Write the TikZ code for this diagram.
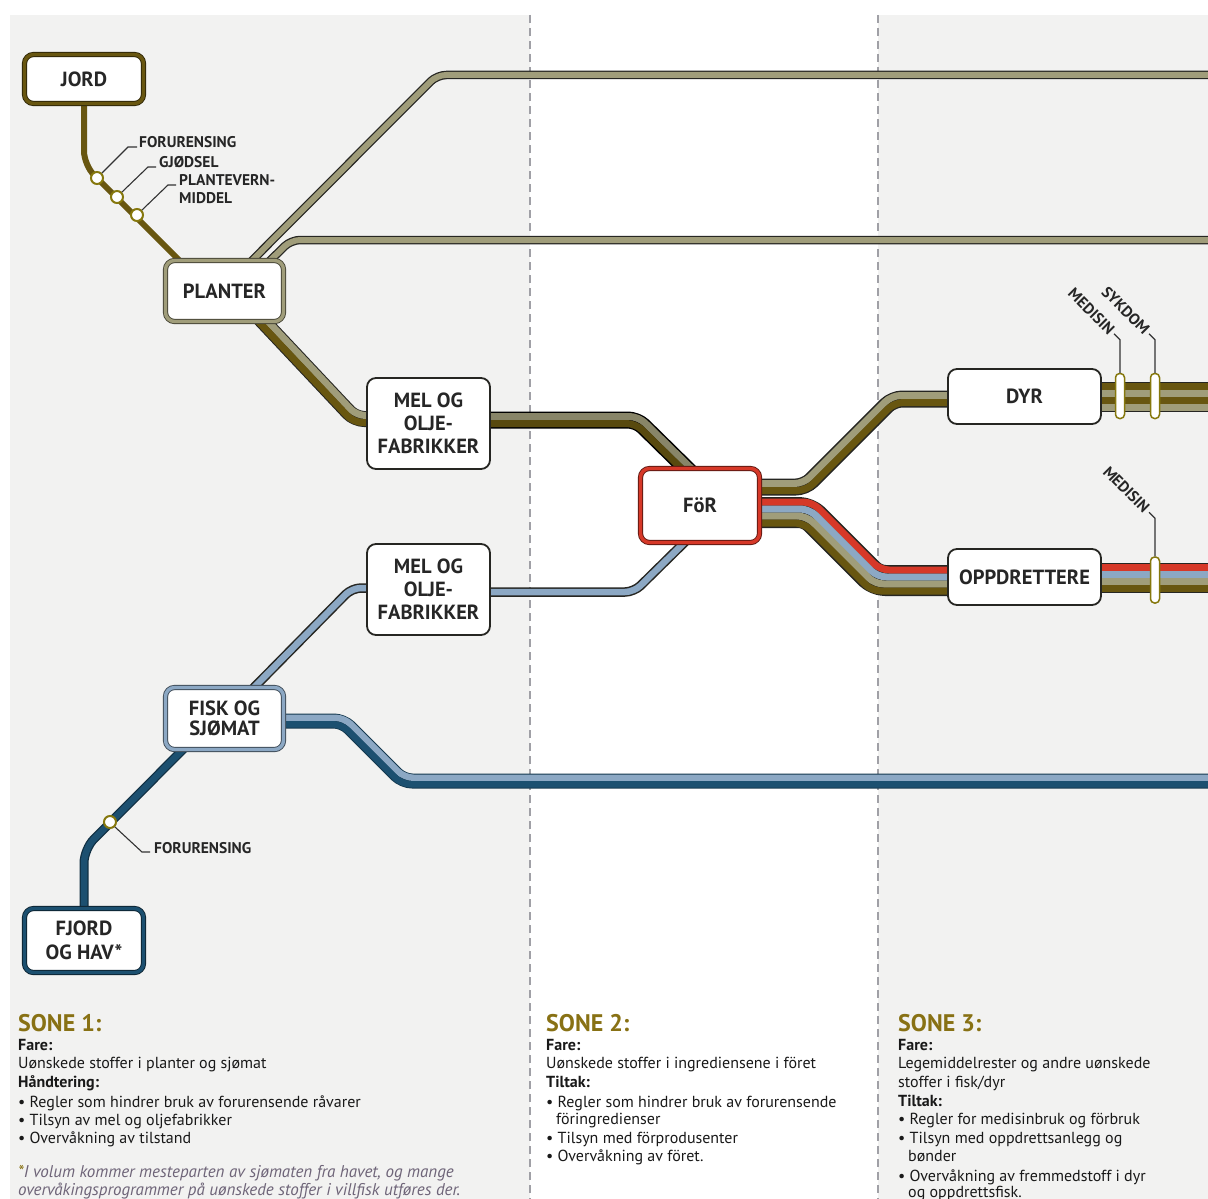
\documentclass[tikz,border=0pt]{standalone}
\usepackage{fontspec}
\setmainfont{PT Sans}
\usetikzlibrary{calc}
\pgfdeclarelayer{back}
\pgfdeclarelayer{lines}
\pgfsetlayers{back,lines,main}
\definecolor{oliveD}{RGB}{104,86,16}
\definecolor{oliveL}{RGB}{160,157,122}
\definecolor{blueL}{RGB}{140,168,196}
\definecolor{blueD}{RGB}{28,80,112}
\definecolor{redC}{RGB}{214,56,40}
\definecolor{edge}{RGB}{38,38,34}
\definecolor{bgz}{RGB}{242,242,241}
\definecolor{dashc}{RGB}{160,160,166}
\definecolor{gold}{RGB}{136,113,20}
\definecolor{fnc}{RGB}{110,100,120}
\begin{document}
\begin{tikzpicture}[x=1pt,y=-1pt,
 box/.style={rectangle, rounded corners=9pt, fill=white, align=center, inner sep=0pt, font=\fontsize{20.5}{23}\selectfont\bfseries, text=black!85},
 thinbox/.style={box, draw=edge, line width=1.8pt},
 dblbox/.style={box, draw=#1!45!black, double=#1, double distance=3.4pt, line width=0.9pt},
 lane/.style={line width=7pt, rounded corners=9pt, line join=round},
 outl/.style={draw=edge, rounded corners=9pt, line join=round},
 stn/.style={circle, minimum size=12pt, inner sep=0pt, fill=white, draw=oliveD!80!yellow, line width=2pt},
 barn/.style={rectangle, rounded corners=4pt, minimum width=9pt, minimum height=45pt, inner sep=0pt, fill=white, draw=oliveD!80!yellow, line width=1.5pt},
 leader/.style={draw=black!80, line width=1.1pt},
 lbl/.style={font=\fontsize{15.5}{18}\selectfont\bfseries, inner sep=0pt, text=black!85},
 tx/.style={anchor=base west, inner sep=0pt, font=\fontsize{16}{18}\selectfont, text=black!90},
 hd/.style={tx, font=\fontsize{16}{18}\selectfont\bfseries},
 sone/.style={tx, font=\fontsize{24}{28}\selectfont\bfseries, text=gold},
 fn/.style={tx, font=\fontsize{17}{19}\selectfont\itshape, text=fnc},
 dashln/.style={draw=dashc, line width=1.5pt, dash pattern=on 8pt off 5pt}
]
\useasboundingbox (0,0) rectangle (1208,1199);
\begin{pgfonlayer}{back}
\fill[white] (0,0) rectangle (1208,1199);
\fill[bgz] (10,15) rectangle (1208,1199);
\fill[white] (530,15) rectangle (878,1199);
\draw[dashln] (530,15) -- (530,1199);
\draw[dashln] (878,15) -- (878,1199);
\end{pgfonlayer}

% nodes
\node[dblbox=oliveD, minimum width=119pt, minimum height=49pt] (jord) at (84,79) {JORD};
\node[dblbox=oliveL, minimum width=118pt, minimum height=61pt] (planter) at (224.5,291) {PLANTER};
\node[thinbox, minimum width=123pt, minimum height=91pt] (melA) at (428.5,423.5) {MEL OG\\OLJE-\\FABRIKKER};
\node[thinbox, minimum width=123pt, minimum height=91pt] (melB) at (428.5,589.5) {MEL OG\\OLJE-\\FABRIKKER};
\node[dblbox=redC, minimum width=119pt, minimum height=74pt] (foer) at (700,505.5) {FöR};
\node[thinbox, minimum width=153pt, minimum height=55pt] (dyr) at (1024.5,396.5) {DYR};
\node[thinbox, minimum width=153pt, minimum height=56pt] (opp) at (1024.5,577) {OPPDRETTERE};
\node[dblbox=blueL, minimum width=118pt, minimum height=62pt, font=\fontsize{20.5}{20}\selectfont\bfseries] (fisk) at (224.5,718.5) {FISK OG\\SJØMAT};
\node[dblbox=blueD, minimum width=119pt, minimum height=64pt, font=\fontsize{20.5}{24}\selectfont\bfseries] (fjord) at (84,940.5) {FJORD\\OG HAV*};

\coordinate (e1) at (1215,75);
\coordinate (e2) at (1215,240);
\coordinate (e3) at (1215,781);
\coordinate (e4) at (1215,397);
\coordinate (e5) at (1215,578);

\begin{pgfonlayer}{lines}
% JORD -> PLANTER
\draw[draw=oliveD, line width=6pt, rounded corners=14pt] (jord.south) -- (84,165) -- ($(planter.north west)+(20,6)$);
% PLANTER -> top lines
\draw[outl, line width=8.5pt] ($(planter.north)+(22,6)$) -- (437,75) -- (e1);
\draw[lane, line width=6pt, draw=oliveL] ($(planter.north)+(22,6)$) -- (437,75) -- (e1);
\draw[outl, line width=8.5pt] ($(planter.north)+(40,6)$) -- (291,240) -- (e2);
\draw[lane, line width=6pt, draw=oliveL] ($(planter.north)+(40,6)$) -- (291,240) -- (e2);
% PLANTER -> MEL A
\draw[outl, line width=16pt] ($(planter.south)+(33.5,-6)$) -- (355,419) -- ($(melA.west)+(8,-4.5)$);
\foreach \d/\c in {-3.5/oliveL, 3.5/oliveD}
  \draw[lane, draw=\c] ($(planter.south)+(33.5,-6)+({-0.7*(\d)},{0.7*(\d)})$) -- ($(355,419)+({-0.4*(\d)},\d)$) -- ($(melA.west)+(8,-4.5)+(0,\d)$);
% MEL A -> FOR
\draw[outl, line width=17pt, draw=black] ($(melA.east)+(-5,-3.5)$) -- (637,420) -- ($(foer.north)+(-10,4)$);
\foreach \d/\c in {-3.5/oliveL!85!black, 3.5/oliveD!85!black}
  \draw[lane, draw=\c] ($(melA.east)+(-5,-3.5)+(0,\d)$) -- ($(637,420)+({-0.4*(\d)},\d)$) -- ($(foer.north)+(-10,4)+({-0.7*(\d)},{0.7*(\d)})$);
% MEL B -> FOR
\draw[outl, line width=9.5pt] ($(melB.east)+(-5,2.5)$) -- (634,592) -- ($(foer.south)+(-12,-4)$);
\draw[lane, line width=6.5pt, draw=blueL] ($(melB.east)+(-5,2.5)$) -- (634,592) -- ($(foer.south)+(-12,-4)$);
% FISK -> MEL B
\draw[outl, line width=9.5pt] ($(fisk.north)+(24,6)$) -- (352,588) -- ($(melB.west)+(8,-1.5)$);
\draw[lane, line width=6.5pt, draw=blueL] ($(fisk.north)+(24,6)$) -- (352,588) -- ($(melB.west)+(8,-1.5)$);
% FISK -> right
\draw[outl, line width=15pt, draw=blueD!70!black] ($(fisk.east)+(-5,2.5)$) -- (343,721) -- (403,781) -- (e3);
\foreach \d/\c in {-3.25/blueL, 3.25/blueD}
  \draw[lane, line width=6.5pt, draw=\c] ($(fisk.east)+(-5,2.5)+(0,\d)$) -- ($(343,721)+({-0.4*(\d)},\d)$) -- ($(403,781)+({-0.4*(\d)},\d)$) -- ($(e3)+(0,\d)$);
% FJORD -> FISK
\draw[draw=blueD!60!black, line width=9pt, rounded corners=14pt] (fjord.north) -- (84,849) -- ($(fisk.south)+(-36,-6)$);
\draw[draw=blueD, line width=6.5pt, rounded corners=14pt] (fjord.north) -- (84,849) -- ($(fisk.south)+(-36,-6)$);
% FOR -> DYR
\draw[outl, line width=17pt] ($(foer.east)+(-5,-18.5)$) -- (805,487) -- (893,399) -- ($(dyr.west)+(6,2.5)$);
\foreach \d/\c in {-3.5/oliveL, 3.5/oliveD}
  \draw[lane, draw=\c] ($(foer.east)+(-5,-18.5)+(0,\d)$) -- ($(805,487)+({0.4*(\d)},\d)$) -- ($(893,399)+({0.4*(\d)},\d)$) -- ($(dyr.west)+(6,2.5)+(0,\d)$);
% FOR -> OPPDRETTERE
\draw[outl, line width=31pt] ($(foer.east)+(-5,7)$) -- (808,512.5) -- (876,580.5) -- ($(opp.west)+(6,3.5)$);
\foreach \d/\c in {-10.5/redC, -3.5/blueL, 3.5/oliveL, 10.5/oliveD}
  \draw[lane, draw=\c] ($(foer.east)+(-5,7)+(0,\d)$) -- ($(808,512.5)+({-0.4*(\d)},\d)$) -- ($(876,580.5)+({-0.4*(\d)},\d)$) -- ($(opp.west)+(6,3.5)+(0,\d)$);
% DYR -> right
\draw[outl, line width=30pt] ($(dyr.east)+(-5,0.5)$) -- (e4);
\foreach \d/\c in {-10.5/oliveD, -3.5/oliveL, 3.5/oliveD, 10.5/oliveL}
  \draw[lane, draw=\c] ($(dyr.east)+(-5,{0.5+\d})$) -- ($(e4)+(0,\d)$);
% OPPDRETTERE -> right
\draw[outl, line width=30pt] ($(opp.east)+(-5,1)$) -- (e5);
\foreach \d/\c in {-10.5/redC, -3.5/blueL, 3.5/oliveL, 10.5/oliveD}
  \draw[lane, draw=\c] ($(opp.east)+(-5,{1+\d})$) -- ($(e5)+(0,\d)$);
\end{pgfonlayer}

% stations
\node[stn] (st1) at (97,178) {};
\node[stn] (st2) at (117,197) {};
\node[stn] (st3) at (137,215) {};
\node[stn] (st4) at (110,822) {};
\draw[leader] (st1.north east) -- (128,147) -- (137,147);
\draw[leader] (st2.north east) -- (148,167) -- (156,167);
\draw[leader] (st3.north east) -- (168,185) -- (176,185);
\draw[leader] (st4.south east) -- (142,852) -- (150,852);
\node[lbl, anchor=base west] (l1) at (139,147) {FORURENSING};
\node[lbl, anchor=base west] (l2) at (159,167) {GJØDSEL};
\node[lbl, anchor=base west] (l3) at (179,185) {PLANTEVERN-};
\node[lbl, anchor=base west] (l3b) at (179,203) {MIDDEL};
\node[lbl, anchor=base west] (l4) at (154,853) {FORURENSING};

% bars
\node[barn] (bar1) at (1120,396) {};
\node[barn] (bar2) at (1155,396) {};
\node[barn, minimum height=46pt] (bar3) at (1155,580) {};
\draw[leader] (bar1.north) -- ++(0,-33) -- ++(-6,-6) coordinate (m1);
\draw[leader] (bar2.north) -- ++(0,-33) -- ++(-6,-6) coordinate (m2);
\draw[leader] (bar3.north) -- ++(0,-38) -- ++(-6,-6) coordinate (m3);
\node[lbl, rotate=-45, anchor=east] (lm1) at ($(m1)+(-2,-2)$) {MEDISIN};
\node[lbl, rotate=-45, anchor=east] (lm2) at ($(m2)+(-2,-2)$) {SYKDOM};
\node[lbl, rotate=-45, anchor=east] (lm3) at ($(m3)+(-2,-2)$) {MEDISIN};

% zone texts
\node[sone] (s1h) at (18,1031) {SONE 1:};
\node[hd] (s1a) at (18,1050) {Fare:};
\node[tx] (s1b) at (18,1068) {Uønskede stoffer i planter og sjømat};
\node[hd] (s1c) at (18,1087) {Håndtering:};
\node[tx] (s1d) at (18,1107) {• Regler som hindrer bruk av forurensende råvarer};
\node[tx] (s1e) at (18,1125) {• Tilsyn av mel og oljefabrikker};
\node[tx] (s1f) at (18,1143) {• Overvåkning av tilstand};
\node[fn] (s1g) at (18,1177) {\textcolor{gold}{*}I volum kommer mesteparten av sjømaten fra havet, og mange};
\node[fn] (s1i) at (18,1195) {overvåkingsprogrammer på uønskede stoffer i villfisk utføres der.};

\node[sone] (s2h) at (546,1031) {SONE 2:};
\node[hd] (s2a) at (546,1050) {Fare:};
\node[tx] (s2b) at (546,1068) {Uønskede stoffer i ingrediensene i föret};
\node[hd] (s2c) at (546,1087) {Tiltak:};
\node[tx] (s2d) at (546,1107) {• Regler som hindrer bruk av forurensende};
\node[tx] (s2e) at (556,1124) {föringredienser};
\node[tx] (s2f) at (546,1143) {• Tilsyn med förprodusenter};
\node[tx] (s2g) at (546,1161) {• Overvåkning av föret.};

\node[sone] (s3h) at (898,1031) {SONE 3:};
\node[hd] (s3a) at (898,1050) {Fare:};
\node[tx] (s3b) at (898,1068) {Legemiddelrester og andre uønskede};
\node[tx] (s3c) at (898,1087) {stoffer i fisk/dyr};
\node[hd] (s3d) at (898,1106) {Tiltak:};
\node[tx] (s3e) at (898,1124) {• Regler for medisinbruk og förbruk};
\node[tx] (s3f) at (898,1143) {• Tilsyn med oppdrettsanlegg og};
\node[tx] (s3g) at (908,1161) {bønder};
\node[tx] (s3i) at (898,1181) {• Overvåkning av fremmedstoff i dyr};
\node[tx] (s3j) at (908,1197) {og oppdrettsfisk.};
\end{tikzpicture}
\end{document}
